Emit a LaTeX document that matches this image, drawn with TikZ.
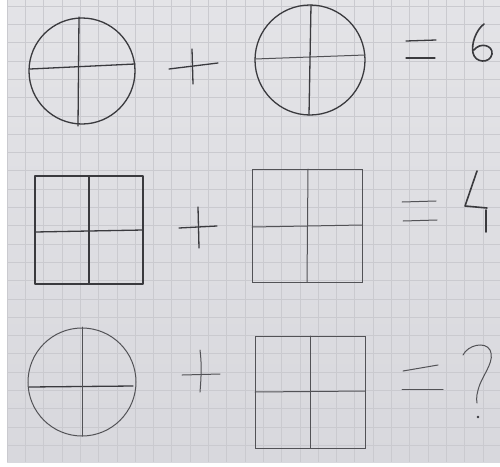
\documentclass[tikz,border=0pt]{standalone}
\usetikzlibrary{calc}
\definecolor{paper}{HTML}{D8D8DD}
\definecolor{gridc}{HTML}{CACACF}
\definecolor{pencil}{HTML}{3A3A3E}
\tikzset{
  pen/.style={draw=pencil, line width=1.3pt, line cap=round, line join=round},
  thinpen/.style={draw=pencil!85!paper, line width=1.0pt, line cap=round},
}
\begin{document}
\begin{tikzpicture}[x=1pt,y=-1pt]
\useasboundingbox (0,0) rectangle (500,466);
\fill[white] (0,0) rectangle (500,466);
\shade[top color=paper!70!white, bottom color=paper] (7,0) rectangle (500,462);
% grid
\begin{scope}
\clip (7,0) rectangle (500,462);
\foreach \i in {0,...,27} {
  \draw[gridc, line width=0.5pt] ({7+18.3*\i},0) -- ({7+18.3*\i},462);
}
\foreach \j in {0,...,26} {
  \draw[gridc, line width=0.5pt] (7,{6+18.3*\j}) -- (500,{6+18.3*\j});
}
\end{scope}

% ---------- Row 1 ----------
\draw[pen] (82,71) circle[radius=53];
\draw[pen] (30,69) -- (135,64);
\draw[pen] (79,17) -- (78,126);
\draw[pen] (169,69) -- (218,63);
\draw[pen] (192,49) -- (193,84);
\draw[pen] (310,60) circle[radius=55];
\draw[thinpen] (255,59) -- (365,55);
\draw[pen] (311,5) -- (309,115);
\draw[pen] (406,41) -- (436,40);
\draw[pen] (406,58) -- (435,58);
\draw[pen, line width=1.6pt] (484,24) .. controls (476,30) and (471,44) .. (473,53)
  .. controls (475,63) and (490,64) .. (492,54)
  .. controls (493,45) and (480,42) .. (474,50);

% ---------- Row 2 ----------
\draw[pen] (35,176) rectangle (143,284);
\draw[pen] (89,176) -- (89,284);
\draw[pen] (35,232) -- (143,230);
\draw[pen] (179,228) -- (217,226);
\draw[pen] (198,207) -- (199,248);
\draw[thinpen] (252,169) rectangle (362,282);
\draw[thinpen] (308,169) -- (307,282);
\draw[thinpen] (252,227) -- (362,225);
\draw[thinpen] (402,202) -- (436,201);
\draw[thinpen] (403,221) -- (437,220);
\draw[pen, line width=1.6pt] (477,171) -- (465,206) -- (487,208);
\draw[pen, line width=1.6pt] (486,210) -- (486,232);

% ---------- Row 3 ----------
\draw[thinpen] (82,382) circle[radius=54];
\draw[pen] (29,387) -- (133,386);
\draw[thinpen] (82,327) -- (82,436);
\draw[thinpen] (182,375) -- (220,374);
\draw[thinpen] (200,350) .. controls (202,365) and (201,380) .. (200,392);
\draw[thinpen] (255,336) rectangle (365,448);
\draw[thinpen] (310,336) -- (310,448);
\draw[thinpen] (255,392) -- (365,391);
\draw[thinpen] (403,371) -- (438,365);
\draw[thinpen] (402,389) -- (443,389);
\draw[thinpen] (463,355) .. controls (468,345) and (485,341) .. (490,350)
  .. controls (495,360) and (485,372) .. (480,384)
  .. controls (477,392) and (476,398) .. (477,403);
\fill[pencil] (478,417) circle[radius=1.3];
\end{tikzpicture}
\end{document}
